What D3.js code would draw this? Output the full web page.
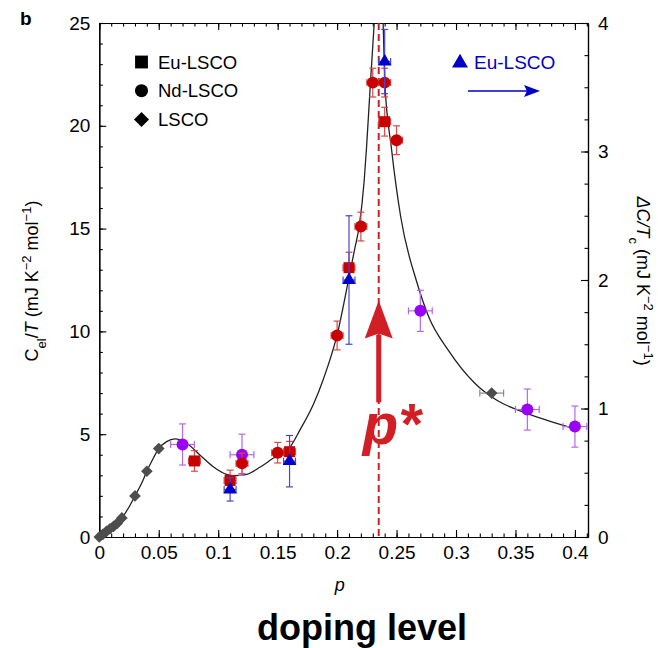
<!DOCTYPE html>
<html>
<head>
<meta charset="utf-8">
<script src="https://cdn.jsdelivr.net/npm/d3@7"></script>
<style>
  body { margin: 0; background: #fff; }
  text { font-family: 'Liberation Sans', Arial, Helvetica, sans-serif; }
</style>
</head>
<body>
<div id="chart"></div>
<script>
// ---- data ----
// Eu-LSCO, C_el/T (squares)
var pEu = [0.08, 0.11, 0.16, 0.21, 0.24];
var cEu = [3.7, 2.75, 4.15, 13.1, 20.2];
var cEuErr = [0.5, 0.5, 0.5, 0.75, 0.7];

// Nd-LSCO, C_el/T (red circles)
var pNd = [0.12, 0.15, 0.20, 0.22, 0.23, 0.24, 0.25];
var cNd = [3.58, 4.1, 9.8, 15.1, 22.1, 22.1, 19.3];
var cNdErr = [0.5, 0.5, 0.7, 0.7, 0.7, 0.7, 0.7];

// Nd-LSCO, other set (purple circles)
var pNdB = [0.07, 0.12, 0.27, 0.36, 0.40];
var cNdB = [4.5, 4.0, 11.0, 6.2, 5.37];
var cNdBErr = [1.0, 1.0, 1.0, 1.0, 1.0];

// LSCO (diamonds)
var pLsco = [0, 0.003, 0.006, 0.009, 0.012, 0.015, 0.019, 0.03, 0.04, 0.05, 0.33];
var cLsco = [0, 0.13, 0.27, 0.4, 0.52, 0.66, 0.93, 2.0, 3.2, 4.3, 7.0];
var pLscoErr = [0, 0, 0, 0, 0, 0, 0, 0, 0, 0, 0.01];

// Eu-LSCO, jump dC/Tc (triangles, right axis)
var pJump = [0.11, 0.16, 0.21, 0.24];
var dcJump = [0.37, 0.59, 2.0, 3.7];
var dcJumpErr = [0.09, 0.2, 0.5, 0.25];

// guide-to-the-eye line, two branches either side of p*
var fitLeft = [[0, 0], [0.009, 0.34], [0.0188, 0.91], [0.0244, 1.4], [0.03, 2.0], [0.0356, 2.61],
  [0.0398, 3.18], [0.0454, 3.83], [0.0496, 4.27], [0.0566, 4.64], [0.0636, 4.77], [0.0734, 4.56],
  [0.0846, 3.99], [0.0958, 3.42], [0.107, 3.05], [0.1126, 2.98], [0.1239, 3.05], [0.135, 3.39],
  [0.1462, 3.83], [0.1597, 4.31], [0.1687, 5.2], [0.1798, 6.42], [0.1882, 7.64], [0.2003, 9.9],
  [0.2093, 12.42], [0.2149, 14.04], [0.2185, 15.09], [0.2227, 17.28], [0.2247, 18.9],
  [0.2281, 22.15], [0.2311, 24.9], [0.2318, 25.6]];
var fitRight = [[0.2383, 25.6], [0.2387, 25], [0.2401, 22.15], [0.2457, 18.9], [0.2534, 15.6],
  [0.267, 12.4], [0.2771, 10.7], [0.2933, 9.1], [0.3158, 7.48], [0.334, 6.66], [0.3592, 6.02],
  [0.4012, 5.24]];

var pStar = 0.235;

var xMajor = [0, 0.05, 0.1, 0.15, 0.2, 0.25, 0.3, 0.35, 0.4];
var yMajor = [0, 5, 10, 15, 20, 25];
var y2Major = [0, 1, 2, 3, 4];

// ---- layout ----
var width = 658, height = 648;
var plotL = 99.3, plotR = 588, plotT = 23, plotB = 537;

var svg = d3.select("#chart")
  .append("svg")
  .attr("width", width)
  .attr("height", height);

var x = d3.scaleLinear().domain([0, 0.411]).range([plotL, plotR]);
var y = d3.scaleLinear().domain([0, 25]).range([plotB, plotT]);
var y2 = d3.scaleLinear().domain([0, 4]).range([plotB, plotT]);

var RED = "#c80000", RED_ERR = "#d24a4a";
var PURPLE = "#9900f5", PURPLE_ERR = "#b468ea";
var BLUE = "#0000c8", BLUE_ERR = "#4646d2";
var GRAY = "#4d4d4d", GRAY_ERR = "#8a8a8a";
var ANNOT = "#d21f26";

svg.append("defs").append("clipPath").attr("id", "plot")
  .append("rect")
  .attr("x", plotL).attr("y", plotT)
  .attr("width", plotR - plotL).attr("height", plotB - plotT);

// ---- axes ----
function styleAxis(g) {
  g.selectAll("path.domain").attr("stroke", "#000").attr("stroke-width", 1.2);
  g.selectAll(".tick line").attr("stroke", "#000").attr("stroke-width", 1.1);
  g.selectAll(".tick text").attr("font-size", 19).attr("fill", "#000")
    .attr("font-family", "'Liberation Sans', Arial, sans-serif");
}

var xMinor = d3.range(0, 42).map(function(i) { return i / 100; });
var yMinor = d3.range(0, 26);
var y2Minor = d3.range(0, 17).map(function(i) { return i / 4; });
var plain = function(d) { return String(d); };

// bottom
svg.append("g").attr("transform", "translate(0," + plotB + ")")
  .call(d3.axisBottom(x).tickValues(xMinor).tickSizeInner(-3.5).tickSizeOuter(0).tickFormat(""))
  .call(styleAxis);
svg.append("g").attr("transform", "translate(0," + plotB + ")")
  .call(d3.axisBottom(x).tickValues(xMajor).tickSizeInner(-7).tickSizeOuter(0).tickPadding(9)
    .tickFormat(plain))
  .call(styleAxis);
// top
svg.append("g").attr("transform", "translate(0," + plotT + ")")
  .call(d3.axisTop(x).tickValues(xMinor).tickSizeInner(-3.5).tickSizeOuter(0).tickFormat(""))
  .call(styleAxis);
svg.append("g").attr("transform", "translate(0," + plotT + ")")
  .call(d3.axisTop(x).tickValues(xMajor).tickSizeInner(-7).tickSizeOuter(0).tickFormat(""))
  .call(styleAxis);
// left
svg.append("g").attr("transform", "translate(" + plotL + ",0)")
  .call(d3.axisLeft(y).tickValues(yMinor).tickSizeInner(-3.5).tickSizeOuter(0).tickFormat(""))
  .call(styleAxis);
svg.append("g").attr("transform", "translate(" + plotL + ",0)")
  .call(d3.axisLeft(y).tickValues(yMajor).tickSizeInner(-7).tickSizeOuter(0).tickPadding(9)
    .tickFormat(plain))
  .call(styleAxis);
// right
svg.append("g").attr("transform", "translate(" + plotR + ",0)")
  .call(d3.axisRight(y2).tickValues(y2Minor).tickSizeInner(-3.5).tickSizeOuter(0).tickFormat(""))
  .call(styleAxis);
svg.append("g").attr("transform", "translate(" + plotR + ",0)")
  .call(d3.axisRight(y2).tickValues(y2Major).tickSizeInner(-7).tickSizeOuter(0).tickPadding(10)
    .tickFormat(plain))
  .call(styleAxis);

// axis titles
var yTitle = svg.append("text")
  .attr("transform", "translate(38," + 281 + ")rotate(-90)")
  .attr("text-anchor", "middle").attr("font-size", 18);
yTitle.append("tspan").text("C");
yTitle.append("tspan").attr("font-size", 13).attr("baseline-shift", "sub").text("el");
yTitle.append("tspan").text("/");
yTitle.append("tspan").attr("font-style", "italic").text("T");
yTitle.append("tspan").text(" (mJ K");
yTitle.append("tspan").attr("font-size", 13).attr("baseline-shift", "super").text("\u22122");
yTitle.append("tspan").text(" mol");
yTitle.append("tspan").attr("font-size", 13).attr("baseline-shift", "super").text("\u22121");
yTitle.append("tspan").text(")");

var y2Title = svg.append("text")
  .attr("transform", "translate(637," + 281 + ")rotate(90)")
  .attr("text-anchor", "middle").attr("font-size", 18);
y2Title.append("tspan").attr("font-style", "italic").text("\u0394C/T");
y2Title.append("tspan").attr("font-size", 13).attr("baseline-shift", "sub").text("c");
y2Title.append("tspan").text(" (mJ K");
y2Title.append("tspan").attr("font-size", 13).attr("baseline-shift", "super").text("\u22122");
y2Title.append("tspan").text(" mol");
y2Title.append("tspan").attr("font-size", 13).attr("baseline-shift", "super").text("\u22121");
y2Title.append("tspan").text(")");

svg.append("text").attr("x", (plotL + plotR) / 2 - 4).attr("y", 591)
  .attr("text-anchor", "middle").attr("font-size", 18).attr("font-style", "italic").text("p");

svg.append("text").attr("x", 362).attr("y", 640)
  .attr("text-anchor", "middle").attr("font-size", 36).attr("font-weight", "bold").text("doping level");

svg.append("text").attr("x", 20).attr("y", 25)
  .attr("font-size", 19).attr("font-weight", "bold").text("b");

// ---- fit line + p* ----
var plot = svg.append("g").attr("clip-path", "url(#plot)");
var line = d3.line()
  .x(function(d) { return x(d[0]); })
  .y(function(d) { return y(d[1]); })
  .curve(d3.curveMonotoneX);

[fitLeft, fitRight].forEach(function(branch) {
  plot.append("path").datum(branch)
    .attr("d", line)
    .attr("fill", "none").attr("stroke", "#222").attr("stroke-width", 1.3);
});

plot.append("line")
  .attr("x1", x(pStar)).attr("x2", x(pStar))
  .attr("y1", y(25)).attr("y2", y(0))
  .attr("stroke", ANNOT).attr("stroke-width", 2)
  .attr("stroke-dasharray", "7,4");

// ---- error bars + markers ----
function errBars(pts, color) {
  var g = svg.append("g").attr("stroke", color).attr("stroke-width", 1.2).attr("fill", "none");
  var cap = 3.5;
  pts.forEach(function(d) {
    var cx = x(d.p), cy = d.ys(d.v);
    if (d.ve > 0) {
      var y0 = d.ys(d.v - d.ve), y1 = d.ys(d.v + d.ve);
      g.append("line").attr("x1", cx).attr("x2", cx).attr("y1", y0).attr("y2", y1);
      g.append("line").attr("x1", cx - cap).attr("x2", cx + cap).attr("y1", y0).attr("y2", y0);
      g.append("line").attr("x1", cx - cap).attr("x2", cx + cap).attr("y1", y1).attr("y2", y1);
    }
    if (d.pe > 0) {
      var x0 = x(d.p - d.pe), x1 = x(d.p + d.pe);
      g.append("line").attr("x1", x0).attr("x2", x1).attr("y1", cy).attr("y2", cy);
      g.append("line").attr("x1", x0).attr("x2", x0).attr("y1", cy - cap).attr("y2", cy + cap);
      g.append("line").attr("x1", x1).attr("x2", x1).attr("y1", cy - cap).attr("y2", cy + cap);
    }
  });
}

function points(ps, vs, vErr, pErr, ys) {
  return ps.map(function(p, i) {
    return { p: p, v: vs[i], ve: vErr ? vErr[i] : 0, pe: typeof pErr === "number" ? pErr : (pErr ? pErr[i] : 0), ys: ys };
  });
}

var lscoPts = points(pLsco, cLsco, null, pLscoErr, y);
var ndBPts = points(pNdB, cNdB, cNdBErr, 0.01, y);
var euPts = points(pEu, cEu, cEuErr, 0.005, y);
var ndPts = points(pNd, cNd, cNdErr, 0.005, y);
var jumpPts = points(pJump, dcJump, dcJumpErr, 0.005, y2);

function markers(pts, type, size, color, rot) {
  svg.append("g").selectAll("path")
    .data(pts)
    .enter().append("path")
    .attr("d", d3.symbol().type(type).size(size))
    .attr("transform", function(d) {
      return "translate(" + x(d.p) + "," + d.ys(d.v) + ")" + (rot ? "rotate(45)" : "");
    })
    .attr("fill", color);
}

errBars(lscoPts, GRAY_ERR);
markers(lscoPts, d3.symbolSquare, 68, GRAY, true);
errBars(ndBPts, PURPLE_ERR);
markers(ndBPts, d3.symbolCircle, 112, PURPLE);
errBars(euPts, RED_ERR);
markers(euPts, d3.symbolSquare, 121, RED);
errBars(ndPts, RED_ERR);
markers(ndPts, d3.symbolCircle, 112, RED);
errBars(jumpPts, BLUE_ERR);
markers(jumpPts, d3.symbolTriangle, 80, BLUE);

// ---- legends ----
var legendItems = [
  { label: "Eu-LSCO", type: d3.symbolSquare, size: 165, rot: false },
  { label: "Nd-LSCO", type: d3.symbolCircle, size: 135, rot: false },
  { label: "LSCO", type: d3.symbolSquare, size: 112, rot: true }
];
var legend = svg.append("g");
legendItems.forEach(function(d, i) {
  var ly = 62 + i * 28.7;
  legend.append("path")
    .attr("d", d3.symbol().type(d.type).size(d.size))
    .attr("transform", "translate(141.5," + ly + ")" + (d.rot ? "rotate(45)" : ""))
    .attr("fill", "#000");
  legend.append("text").attr("x", 158).attr("y", ly).attr("dy", "0.36em")
    .attr("font-size", 18.5).text(d.label);
});

svg.append("path")
  .attr("d", d3.symbol().type(d3.symbolTriangle).size(110))
  .attr("transform", "translate(460,63)")
  .attr("fill", BLUE);
svg.append("text").attr("x", 474).attr("y", 62).attr("dy", "0.36em")
  .attr("font-size", 19).attr("fill", BLUE).text("Eu-LSCO");
svg.append("line").attr("x1", 468).attr("x2", 534).attr("y1", 91).attr("y2", 91)
  .attr("stroke", BLUE).attr("stroke-width", 1.6);
svg.append("path")
  .attr("d", "M540,91 L524,85 L527,91 L524,97 Z")
  .attr("fill", BLUE);

// ---- p* arrow and label ----
var ax = x(pStar);
var tipY = y(11.5), baseY = y(9.65), tailY = y(6.55);
svg.append("line").attr("x1", ax).attr("x2", ax).attr("y1", baseY - 4).attr("y2", tailY)
  .attr("stroke", ANNOT).attr("stroke-width", 5);
svg.append("path")
  .attr("d", "M" + ax + "," + tipY + " L" + (ax + 14) + "," + baseY + " L" + ax + "," + (baseY - 5) +
    " L" + (ax - 14) + "," + baseY + " Z")
  .attr("fill", ANNOT);
svg.append("text").attr("x", ax + 13).attr("y", 444)
  .attr("text-anchor", "middle").attr("font-size", 58)
  .attr("font-weight", "bold").attr("font-style", "italic")
  .attr("fill", ANNOT).text("p*");
</script>
</body>
</html>
